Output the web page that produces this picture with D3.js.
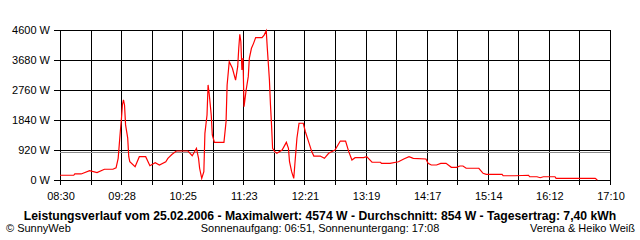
<!DOCTYPE html>
<html>
<head>
<meta charset="utf-8">
<script src="https://cdn.jsdelivr.net/npm/d3@7"></script>
<style>
body { margin: 0; background: #fff; }
text { font-family: "Liberation Sans", Arial, sans-serif; fill: #000; }
</style>
</head>
<body>
<div id="chart"></div>
<script>
// readings of the day (time, watts)
var times = ["08:30","08:43","08:44","08:50","08:58","09:05","09:12","09:20","09:23","09:25",
  "09:26","09:27","09:28","09:29","09:30","09:31","09:32","09:34","09:35","09:36",
  "09:41","09:45","09:51","09:55","10:00","10:04","10:10","10:12","10:16","10:20",
  "10:31","10:35","10:39","10:41","10:42","10:44","10:46","10:47","10:49","10:50",
  "10:51","10:53","10:54","10:56","11:05","11:07","11:08","11:10","11:13","11:16",
  "11:18","11:19","11:20","11:21","11:22","11:23","11:24","11:26","11:28","11:29",
  "11:31","11:33","11:35","11:41","11:43","11:45","11:46","11:48","11:49","11:50",
  "11:51","11:53","11:55","12:00","12:04","12:06","12:07","12:09","12:11","12:12",
  "12:14","12:16","12:20","12:22","12:25","12:28","12:30","12:36","12:40","12:44",
  "12:50","12:55","13:00","13:03","13:06","13:09","13:17","13:20","13:25","13:33",
  "13:34","13:42","13:50","13:55","14:00","14:04","14:16","14:18","14:21","14:26",
  "14:30","14:35","14:40","14:45","14:48","14:51","14:54","15:06","15:10","15:13",
  "15:28","15:29","15:40","15:53","15:54","16:01","16:04","16:07","16:18","16:19",
  "16:56","16:58"];
var watts = [145,145,185,185,285,225,330,330,375,665,
  1075,1480,1840,2300,2455,2300,1690,1290,715,560,
  410,715,715,440,530,460,560,665,790,890,
  890,745,970,665,360,50,255,1430,1995,2915,
  2660,1995,1380,1155,1155,1790,2915,3630,3425,3065,
  3475,4040,4470,4240,3375,3740,2250,2760,3170,3730,
  4040,4190,4365,4365,4445,4574,4040,3065,2300,1690,
  970,870,820,920,1155,970,560,255,50,460,
  1280,1740,1740,1480,1175,870,735,735,665,820,
  920,1195,1195,870,615,685,685,715,545,545,
  510,510,560,645,715,665,645,510,460,460,
  510,510,390,390,430,430,360,360,205,175,
  175,130,130,145,100,100,70,100,100,50,
  50,0];

var xTickLabels = ["08:30","09:28","10:25","11:23","12:21","13:19","14:17","15:14","16:12","17:10"];
var yTicks = [0, 920, 1840, 2760, 3680, 4600];
var average = 854;

var titleText = "Leistungsverlauf vom 25.02.2006 - Maximalwert: 4574 W - Durchschnitt: 854 W - Tagesertrag: 7,40 kWh";
var footLeft = "\u00A9 SunnyWeb";
var footMid = "Sonnenaufgang: 06:51, Sonnenuntergang: 17:08";
var footRight = "Verena & Heiko Wei\u00DF";

var svgWidth = 640;
var svgHeight = 240;
// plot box (note: "top" is taken by window.top)
var plotLeft = 60, plotRight = 610, plotTop = 30, plotBottom = 180;

var svg = d3.select("#chart")
  .append("svg")
  .attr("width", svgWidth)
  .attr("height", svgHeight);

var parseTime = d3.timeParse("%H:%M");
var data = times.map(function(t, i) {
  return { time: parseTime(t), watts: watts[i] };
});

var tStart = parseTime("08:30");
var tEnd = parseTime("17:10");

var xScale = d3.scaleTime()
  .domain([tStart, tEnd])
  .range([plotLeft, plotRight]);

var yScale = d3.scaleLinear()
  .domain([0, 4600])
  .range([plotBottom, plotTop]);

// 18 grid intervals, label every second one
var gridTimes = d3.range(19).map(function(i) {
  return new Date(+tStart + i * (tEnd - tStart) / 18);
});

var grid = svg.append("g").attr("shape-rendering", "crispEdges");

grid.selectAll(".vline")
  .data(gridTimes)
  .enter().append("line")
  .attr("x1", d => Math.round(xScale(d)) + 0.5)
  .attr("x2", d => Math.round(xScale(d)) + 0.5)
  .attr("y1", plotTop)
  .attr("y2", plotBottom + 5)
  .attr("stroke", "#000");

grid.selectAll(".hline")
  .data(yTicks)
  .enter().append("line")
  .attr("x1", plotLeft - 6)
  .attr("x2", plotRight + 1)
  .attr("y1", d => Math.round(yScale(d)) + 0.5)
  .attr("y2", d => Math.round(yScale(d)) + 0.5)
  .attr("stroke", "#000");

// average line
grid.append("line")
  .attr("x1", plotLeft)
  .attr("x2", plotRight)
  .attr("y1", Math.round(yScale(average)) + 0.5)
  .attr("y2", Math.round(yScale(average)) + 0.5)
  .attr("stroke", "#8c8c8c");

// y labels
svg.selectAll(".ylab")
  .data(yTicks)
  .enter().append("text")
  .attr("x", 50)
  .attr("y", d => yScale(d) + 4)
  .attr("text-anchor", "end")
  .attr("font-size", "11px")
  .text(d => d + " W");

// x labels
svg.selectAll(".xlab")
  .data(xTickLabels)
  .enter().append("text")
  .attr("x", (d, i) => xScale(gridTimes[i * 2]) + 1)
  .attr("y", 200)
  .attr("text-anchor", "middle")
  .attr("font-size", "11px")
  .text(d => d);

var createLine = d3.line()
  .x(d => xScale(d.time))
  .y(d => yScale(d.watts));

svg.append("path")
  .attr("stroke", "#ff0000")
  .attr("stroke-width", "1.2")
  .attr("fill", "none")
  .attr("d", createLine(data));

svg.append("text")
  .attr("x", 320)
  .attr("y", 220)
  .attr("text-anchor", "middle")
  .attr("font-size", "12.2px")
  .attr("font-weight", "bold")
  .text(titleText);

svg.append("text")
  .attr("x", 6)
  .attr("y", 232)
  .attr("font-size", "11px")
  .text(footLeft);

svg.append("text")
  .attr("x", 320)
  .attr("y", 232)
  .attr("text-anchor", "middle")
  .attr("font-size", "11px")
  .text(footMid);

svg.append("text")
  .attr("x", 635)
  .attr("y", 232)
  .attr("text-anchor", "end")
  .attr("font-size", "11px")
  .text(footRight);
</script>
</body>
</html>
